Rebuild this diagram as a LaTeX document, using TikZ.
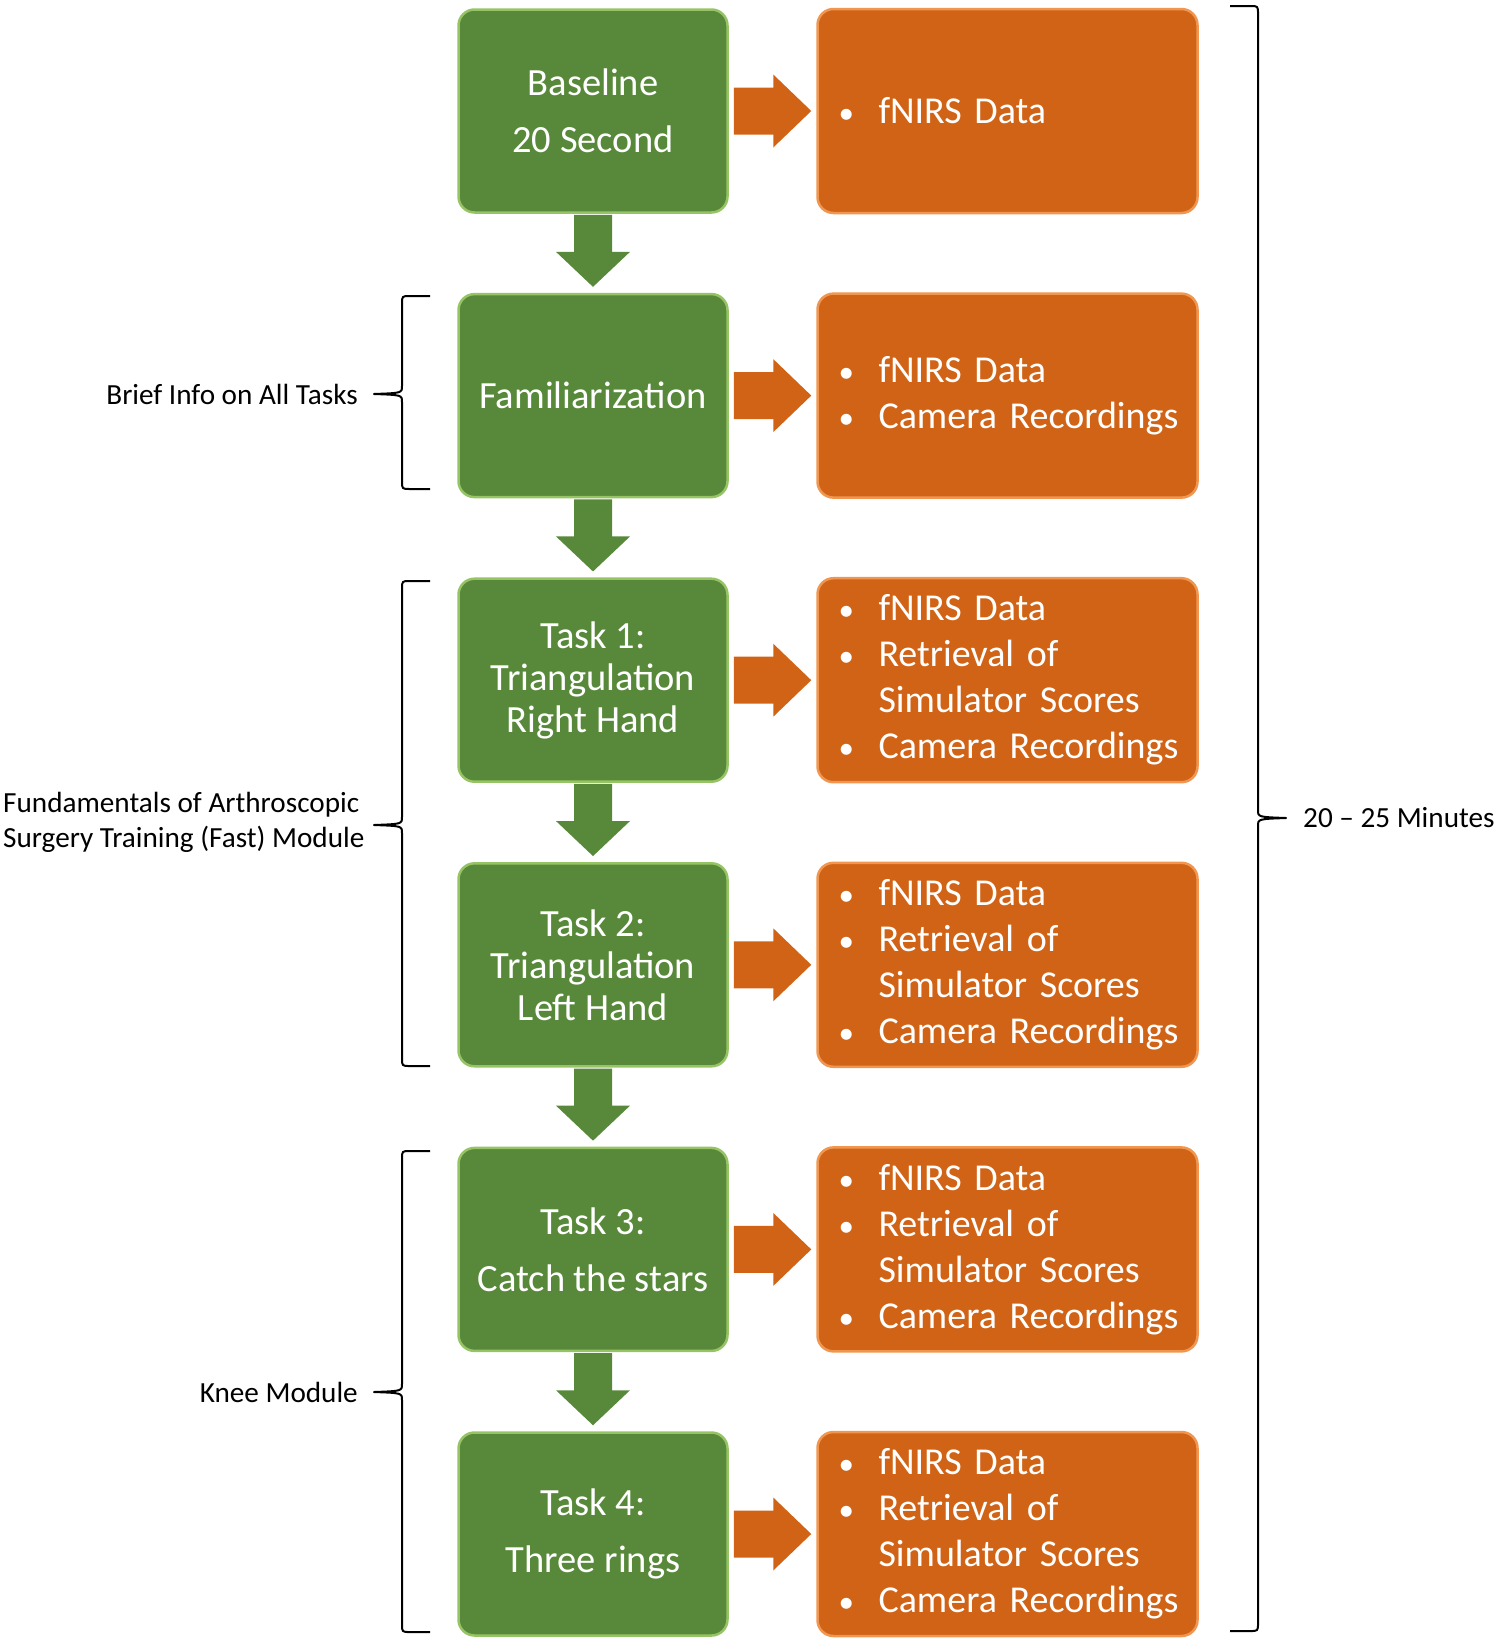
\documentclass[tikz,border=0pt]{standalone}
\usepackage{fontspec}
\setmainfont{Carlito}
\usetikzlibrary{calc}

\definecolor{taskgreen}{RGB}{88,137,58}
\definecolor{taskedge}{RGB}{150,196,100}
\definecolor{dataorange}{RGB}{209,99,22}
\definecolor{dataedge}{RGB}{240,150,80}

\newcommand{\bitem}[1]{\mbox{\makebox[41pt][l]{\hspace{1pt}{\fontsize{31}{31}\selectfont\textbullet}}#1}}
\newcommand{\bcont}[1]{\mbox{\hspace{41pt}#1}}
% fat arrows between two named nodes
\newcommand{\downblk}[2]{\fill[taskgreen] ($(#1.south)+(-19,1)$) -- ($(#1.south)+(19,1)$) -- ($(#2.north)+(19,-41)$) -- ($(#2.north)+(37,-41)$) -- ($(#2.north)+(0,-6)$) -- ($(#2.north)+(-37,-41)$) -- ($(#2.north)+(-19,-41)$) -- cycle;}
\newcommand{\rightblk}[2]{\fill[dataorange] ($(#1.east)+(5,-23.5)$) -- ($(#2.west)+(-43,-23.5)$) -- ($(#2.west)+(-43,-36.5)$) -- ($(#2.west)+(-5,0)$) -- ($(#2.west)+(-43,36.5)$) -- ($(#2.west)+(-43,23.5)$) -- ($(#1.east)+(5,23.5)$) -- cycle;}
% brace: x of ends, top, bottom, middle, side (-1 left, 1 right)
\newcommand{\brc}[5]{\draw[brcline] (#1,#2) -- ({#1+(#5)*20},#2) .. controls ({#1+(#5)*28},#2) .. ({#1+(#5)*28},#2+8) -- ({#1+(#5)*28},#4-8) .. controls ({#1+(#5)*28},#4-1) .. ({#1+(#5)*56},#4) .. controls ({#1+(#5)*28},#4+1) .. ({#1+(#5)*28},#4+8) -- ({#1+(#5)*28},#3-8) .. controls ({#1+(#5)*28},#3) .. ({#1+(#5)*20},#3) -- (#1,#3);}

\begin{document}
\begin{tikzpicture}[x=1pt,y=-1pt,
		task/.style={draw=taskedge, line width=2.5pt, fill=taskgreen, rounded corners=16pt, minimum width=269pt, minimum height=203pt, text=white, align=center, font=\fontsize{38.5}{42}\selectfont},
		data/.style={draw=dataedge, line width=2.5pt, fill=dataorange, rounded corners=16pt, minimum width=380pt, minimum height=204pt, text width=340pt, inner xsep=20pt, text=white, align=left, font=\fontsize{38}{46}\selectfont},
		brcline/.style={line width=2pt, line join=round},
		lbl/.style={inner sep=0pt, font=\fontsize{29.2}{35}\selectfont}]
		\useasboundingbox (0,0) rectangle (1499,1641);
		\node[task] (base) at (593,111) {Baseline\\[15pt]20 Second};
		\node[task] (fam) at (593,395.6) {Familiarization};
		\node[task] (t1) at (593,680.2) {Task 1:\\Triangulation\\Right Hand};
		\node[task] (t2) at (593,964.8) {Task 2:\\Triangulation\\Left Hand};
		\node[task] (t3) at (593,1249.4) {Task 3:\\[15pt]Catch the stars};
		\node[task] (t4) at (593,1534) {Task 4:\\[15pt]Three rings};
		\node[data] (dbase) at (1007.5,111) {\bitem{fNIRS Data}};
		\node[data] (dfam) at (1007.5,395.6) {\bitem{fNIRS Data}\\\bitem{Camera Recordings}};
		\node[data] (dt1) at (1007.5,680.2) {\bitem{fNIRS Data}\\\bitem{Retrieval of}\\\bcont{Simulator Scores}\\\bitem{Camera Recordings}};
		\node[data] (dt2) at (1007.5,964.8) {\bitem{fNIRS Data}\\\bitem{Retrieval of}\\\bcont{Simulator Scores}\\\bitem{Camera Recordings}};
		\node[data] (dt3) at (1007.5,1249.4) {\bitem{fNIRS Data}\\\bitem{Retrieval of}\\\bcont{Simulator Scores}\\\bitem{Camera Recordings}};
		\node[data] (dt4) at (1007.5,1534) {\bitem{fNIRS Data}\\\bitem{Retrieval of}\\\bcont{Simulator Scores}\\\bitem{Camera Recordings}};
		\downblk{base}{fam}
		\downblk{fam}{t1}
		\downblk{t1}{t2}
		\downblk{t2}{t3}
		\downblk{t3}{t4}
		\rightblk{base}{dbase}
		\rightblk{fam}{dfam}
		\rightblk{t1}{dt1}
		\rightblk{t2}{dt2}
		\rightblk{t3}{dt3}
		\rightblk{t4}{dt4}
		% braces and their labels
		\brc{430}{296}{489}{394}{-1}
		\brc{430}{581}{1066}{825}{-1}
		\brc{430}{1151}{1632}{1392}{-1}
		\brc{1230}{6}{1631}{818}{1}
		\node[lbl, anchor=east] (info) at (358,394) {Brief Info on All Tasks};
		\node[lbl, anchor=west, align=left] (fast) at (3,822) {Fundamentals of Arthroscopic\\Surgery Training (Fast) Module};
		\node[lbl, anchor=east] (knee) at (358,1392) {Knee Module};
		\node[lbl, anchor=west] (mins) at (1303,818) {20 -- 25 Minutes};
\end{tikzpicture}
\end{document}
